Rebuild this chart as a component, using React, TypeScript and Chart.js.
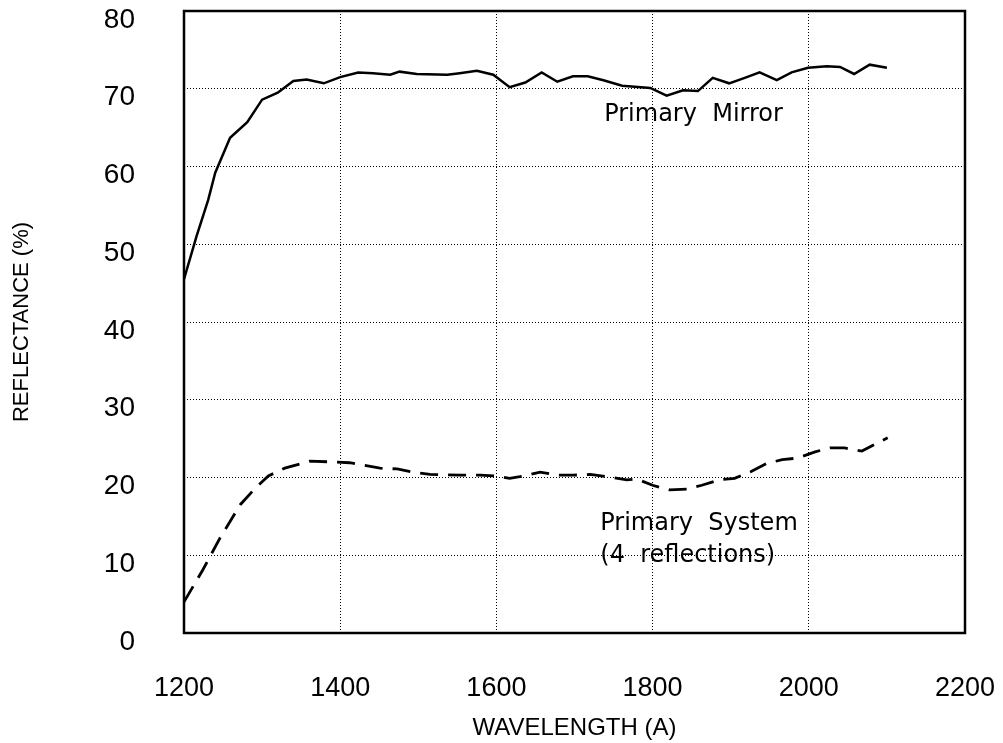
import React, { useEffect, useRef } from "react";
import { Chart, registerables } from "chart.js";

Chart.register(...registerables);

// ---- data ----
const mirrorWavelength = [
  1200, 1216, 1231, 1240, 1259, 1281, 1300, 1320, 1340, 1357, 1379, 1400, 1423, 1442,
  1464, 1476, 1498, 1537, 1553, 1575, 1596, 1617, 1637, 1658, 1678, 1698, 1717, 1737,
  1761, 1797, 1818, 1839, 1858, 1877, 1898, 1918, 1937, 1959, 1978, 1999, 2023, 2040,
  2058, 2078, 2100,
];
const mirrorReflectance = [
  45.5, 51.0, 55.7, 59.2, 63.7, 65.7, 68.6, 69.5, 71.0, 71.2, 70.7, 71.5, 72.1, 72.0,
  71.8, 72.2, 71.9, 71.8, 72.0, 72.3, 71.8, 70.2, 70.8, 72.1, 70.9, 71.6, 71.6, 71.1,
  70.4, 70.1, 69.1, 69.8, 69.7, 71.4, 70.7, 71.4, 72.1, 71.1, 72.1, 72.7, 72.9, 72.8,
  71.9, 73.1, 72.7,
];

const systemWavelength = [
  1200, 1224, 1246, 1272, 1291, 1308, 1329, 1361, 1390, 1412, 1451, 1473, 1493, 1515,
  1553, 1579, 1598, 1617, 1630, 1656, 1678, 1698, 1720, 1741, 1767, 1780, 1800, 1822,
  1844, 1863, 1886, 1905, 1925, 1946, 1966, 1986, 2008, 2027, 2046, 2068, 2091, 2101,
];
const systemReflectance = [
  4.0, 8.1, 12.2, 16.5, 18.6, 20.2, 21.2, 22.1, 22.0, 21.9, 21.2, 21.1, 20.7, 20.4,
  20.3, 20.3, 20.2, 19.9, 20.1, 20.7, 20.3, 20.3, 20.4, 20.1, 19.7, 19.8, 19.0, 18.4,
  18.5, 19.0, 19.7, 19.9, 20.7, 21.8, 22.3, 22.5, 23.3, 23.8, 23.8, 23.4, 24.6, 25.1,
];

const xTickValues = [1200, 1400, 1600, 1800, 2000, 2200];
const yTickValues = [0, 10, 20, 30, 40, 50, 60, 70, 80];

const xAxisTitle = "WAVELENGTH (A)";
const yAxisTitle = "REFLECTANCE (%)";

// in-plot labels (anchored in data coordinates)
const noteTexts = ["Primary  Mirror", "Primary  System", "(4  reflections)"];
const noteWavelength = [1738, 1733, 1733];
const noteReflectance = [65.9, 13.25, 9.1];

const TICK_FONT = "'Liberation Sans', Arial, sans-serif";
const NOTE_FONT = "'DejaVu Sans', Verdana, sans-serif";

const framePlugin = {
  id: "frameAndNotes",
  afterDraw(chart: any) {
    const { ctx, chartArea, scales } = chart;
    ctx.save();
    // notes
    ctx.fillStyle = "#000";
    ctx.font = `24px ${NOTE_FONT}`;
    ctx.textAlign = "left";
    ctx.textBaseline = "alphabetic";
    noteTexts.forEach((t, i) => {
      const px = scales.x.getPixelForValue(noteWavelength[i]);
      const py = scales.y.getPixelForValue(noteReflectance[i]);
      ctx.fillText(t, px, py);
    });
    // frame
    ctx.strokeStyle = "#000";
    ctx.lineWidth = 2.5;
    ctx.setLineDash([]);
    ctx.strokeRect(
      chartArea.left,
      chartArea.top,
      chartArea.right - chartArea.left,
      chartArea.bottom - chartArea.top
    );
    ctx.restore();
  },
};

export default function App() {
  const canvasRef = useRef<HTMLCanvasElement | null>(null);

  useEffect(() => {
    const canvas = canvasRef.current;
    if (!canvas) return;
    const chart = new Chart(canvas, {
      type: "line",
      data: {
        datasets: [
          {
            label: "Primary Mirror",
            data: mirrorWavelength.map((w, i) => ({ x: w, y: mirrorReflectance[i] })),
            borderColor: "#000",
            borderWidth: 2.5,
            pointRadius: 0,
            tension: 0,
            fill: false,
          },
          {
            label: "Primary System (4 reflections)",
            data: systemWavelength.map((w, i) => ({ x: w, y: systemReflectance[i] })),
            borderColor: "#000",
            borderWidth: 2.8,
            borderDash: [18, 10],
            pointRadius: 0,
            tension: 0,
            fill: false,
          },
        ],
      },
      options: {
        animation: false,
        responsive: false,
        devicePixelRatio: 1,
        layout: { padding: { top: 11, right: 38, bottom: 0, left: 0 } },
        plugins: {
          legend: { display: false },
          tooltip: { enabled: false },
          title: { display: false },
        },
        scales: {
          x: {
            type: "linear",
            min: 1200,
            max: 2200,
            afterBuildTicks: (scale: any) => {
              scale.ticks = xTickValues.map((v) => ({ value: v }));
            },
            afterFit: (scale: any) => {
              scale.height = 110;
              scale.paddingLeft = 0;
              scale.paddingRight = 0;
            },
            ticks: {
              color: "#000",
              font: { family: TICK_FONT, size: 27 },
              padding: 39,
              maxRotation: 0,
              autoSkip: false,
              callback: (v: any) => String(v),
            },
            grid: { color: "#000", lineWidth: 1, drawTicks: false },
            border: { display: false, dash: [1, 2] },
            title: {
              display: true,
              text: xAxisTitle,
              color: "#000",
              font: { family: TICK_FONT, size: 24 },
              padding: { top: 0, bottom: 0 },
            },
          },
          y: {
            type: "linear",
            min: 0,
            max: 80,
            afterBuildTicks: (scale: any) => {
              scale.ticks = yTickValues.map((v) => ({ value: v }));
            },
            afterFit: (scale: any) => {
              scale.width = 184;
              scale.paddingTop = 0;
              scale.paddingBottom = 0;
            },
            ticks: {
              color: "#000",
              font: { family: TICK_FONT, size: 28 },
              padding: 49,
              labelOffset: 9,
              autoSkip: false,
              callback: (v: any) => String(v),
            },
            grid: { color: "#000", lineWidth: 1, drawTicks: false },
            border: { display: false, dash: [1, 2] },
            title: {
              display: true,
              text: yAxisTitle,
              color: "#000",
              font: { family: TICK_FONT, size: 22 },
              padding: { top: 9, bottom: 0 },
            },
          },
        },
      },
      plugins: [framePlugin],
    });
    return () => chart.destroy();
  }, []);

  return (
    <div style={{ position: "absolute", left: 0, top: 0, width: 1003, height: 743, background: "#fff" }}>
      <canvas ref={canvasRef} width={1003} height={743} style={{ display: "block" }} />
    </div>
  );
}
